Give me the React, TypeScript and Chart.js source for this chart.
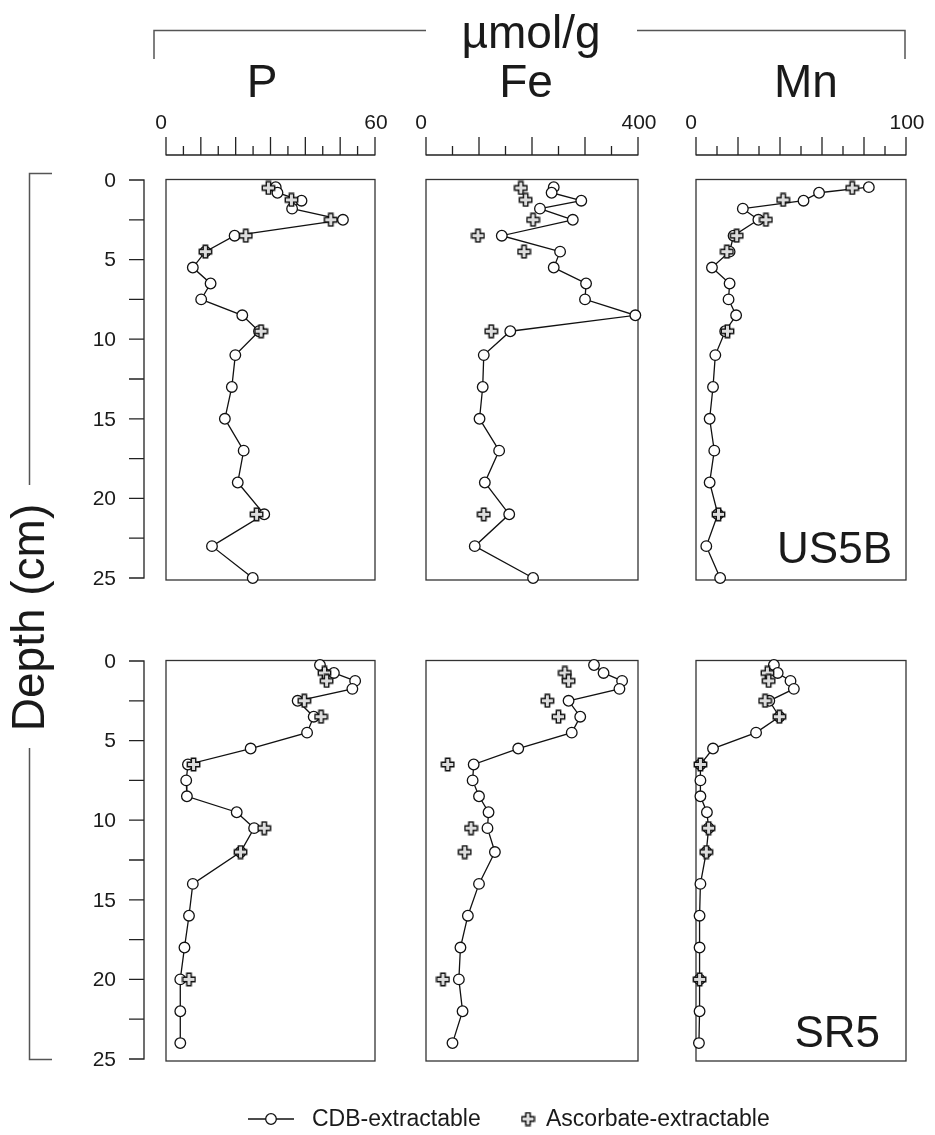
import React, { useEffect, useRef } from "react";
import { Chart, registerables } from "chart.js";

Chart.register(...registerables);

const W = 935;
const H = 1135;
const FONT = '"Liberation Sans", Arial, Helvetica, sans-serif';
const INK = "#1a1a1a";

// ---------- depths (cm) ----------
const depthUS5B = [0.45, 0.8, 1.3, 1.8, 2.5, 3.5, 4.5, 5.5, 6.5, 7.5, 8.5, 9.5, 11, 13, 15, 17, 19, 21, 23, 25];
const depthUS5BAsc = [0.5, 1.25, 2.5, 3.5, 4.5, 9.5, 21];
const depthSR5 = [0.25, 0.75, 1.25, 1.75, 2.5, 3.5, 4.5, 5.5, 6.5, 7.5, 8.5, 9.5, 10.5, 12, 14, 16, 18, 20, 22, 24];
const depthSR5Asc = [0.75, 1.25, 2.5, 3.5, 6.5, 10.5, 12, 20];

// ---------- US5B (µmol/g) ----------
const us5bP = [31.5, 32.0, 38.9, 36.2, 50.8, 19.7, 11.3, 7.7, 12.8, 10.1, 21.9, 26.7, 19.9, 18.9, 16.9, 22.3, 20.6, 28.2, 13.2, 24.9];
const us5bPAsc = [29.4, 36.0, 47.3, 22.9, 11.3, 27.3, 26.0];
const us5bFe = [241, 237, 293, 215, 277, 143, 253, 241, 302, 300, 395, 159, 109, 107, 101, 138, 111, 157, 92, 202];
const us5bFeAsc = [179, 188, 202, 98, 185, 123, 109];
const us5bMn = [82.3, 58.6, 51.2, 22.3, 29.7, 17.9, 16.0, 7.6, 16.0, 15.5, 19.1, 13.9, 9.2, 8.1, 6.5, 8.7, 6.5, 10.4, 4.9, 11.5];
const us5bMnAsc = [74.4, 41.5, 33.3, 19.4, 14.7, 15.0, 10.7];

// ---------- SR5 (µmol/g) ----------
const sr5P = [44.2, 48.2, 54.3, 53.5, 37.8, 42.4, 40.5, 24.3, 6.3, 5.8, 6.0, 20.3, 25.3, 21.4, 7.7, 6.6, 5.3, 4.1, 4.1, 4.1];
const sr5PAsc = [45.5, 46.1, 39.7, 44.5, 7.9, 28.2, 21.4, 6.6];
const sr5Fe = [317, 335, 370, 365, 269, 291, 275, 174, 90, 88, 100, 118, 116, 130, 100, 79, 65, 62, 69, 50];
const sr5FeAsc = [262, 269, 229, 250, 41, 85, 73, 32];
const sr5Mn = [37.1, 38.9, 45.0, 46.6, 34.9, 39.7, 28.6, 8.1, 2.1, 2.1, 2.1, 5.2, 6.0, 4.9, 2.1, 1.7, 1.7, 1.7, 1.7, 1.4];
const sr5MnAsc = [34.0, 34.6, 32.9, 39.7, 2.1, 6.0, 4.9, 1.7];

// ---------- axes / ticks ----------
const pTicks = [0, 5, 10, 15, 20, 25, 30, 35, 40, 45, 50, 55, 60];
const pMajor = 10;
const pTickLabels = ["0", "60"];
const feTicks = [0, 50, 100, 150, 200, 250, 300, 350, 400];
const feMajor = 100;
const feTickLabels = ["0", "400"];
const mnTicks = [0, 10, 20, 30, 40, 50, 60, 70, 80, 90, 100];
const mnMajor = 20;
const mnTickLabels = ["0", "100"];
const depthTicks = [0, 2.5, 5, 7.5, 10, 12.5, 15, 17.5, 20, 22.5, 25];
const depthTickLabels = ["0", "5", "10", "15", "20", "25"];

const elements = ["P", "Fe", "Mn"];
const stations = ["US5B", "SR5"];
const legendLabels = ["CDB-extractable", "Ascorbate-extractable"];
const unitTitle = "µmol/g";
const depthTitle = "Depth (cm)";

// panel boxes (plot areas)
const colBox = [
  { left: 166, right: 375 },
  { left: 426, right: 638 },
  { left: 696, right: 906 },
];
const rowBox = [
  { top: 180, bottom: 578 },
  { top: 661, bottom: 1059 },
];

type Panel = {
  col: number;
  row: number;
  max: number;
  ticks: number[];
  major: number;
  tickLabels: string[];
  cdb: number[];
  asc: number[];
  depth: number[];
  depthAsc: number[];
};

const panels: Panel[] = [
  { col: 0, row: 0, max: 60, ticks: pTicks, major: pMajor, tickLabels: pTickLabels, cdb: us5bP, asc: us5bPAsc, depth: depthUS5B, depthAsc: depthUS5BAsc },
  { col: 1, row: 0, max: 400, ticks: feTicks, major: feMajor, tickLabels: feTickLabels, cdb: us5bFe, asc: us5bFeAsc, depth: depthUS5B, depthAsc: depthUS5BAsc },
  { col: 2, row: 0, max: 100, ticks: mnTicks, major: mnMajor, tickLabels: mnTickLabels, cdb: us5bMn, asc: us5bMnAsc, depth: depthUS5B, depthAsc: depthUS5BAsc },
  { col: 0, row: 1, max: 60, ticks: pTicks, major: pMajor, tickLabels: pTickLabels, cdb: sr5P, asc: sr5PAsc, depth: depthSR5, depthAsc: depthSR5Asc },
  { col: 1, row: 1, max: 400, ticks: feTicks, major: feMajor, tickLabels: feTickLabels, cdb: sr5Fe, asc: sr5FeAsc, depth: depthSR5, depthAsc: depthSR5Asc },
  { col: 2, row: 1, max: 100, ticks: mnTicks, major: mnMajor, tickLabels: mnTickLabels, cdb: sr5Mn, asc: sr5MnAsc, depth: depthSR5, depthAsc: depthSR5Asc },
];

function makeCross(): HTMLCanvasElement {
  const c = document.createElement("canvas");
  c.width = 15;
  c.height = 15;
  const g = c.getContext("2d")!;
  const m = 7.5;
  const a = 2.2;
  const L = 6.2;
  g.beginPath();
  g.moveTo(m - a, m - L);
  g.lineTo(m + a, m - L);
  g.lineTo(m + a, m - a);
  g.lineTo(m + L, m - a);
  g.lineTo(m + L, m + a);
  g.lineTo(m + a, m + a);
  g.lineTo(m + a, m + L);
  g.lineTo(m - a, m + L);
  g.lineTo(m - a, m + a);
  g.lineTo(m - L, m + a);
  g.lineTo(m - L, m - a);
  g.lineTo(m - a, m - a);
  g.closePath();
  g.fillStyle = "#dcdcdc";
  g.fill();
  g.strokeStyle = "#111";
  g.lineWidth = 1.4;
  g.stroke();
  return c;
}

function panelPlugin(p: Panel) {
  return {
    id: "panelDecor",
    beforeDatasetsDraw(chart: any) {
      const { ctx, chartArea: a } = chart;
      ctx.save();
      ctx.strokeStyle = "#333";
      ctx.lineWidth = 1.3;
      ctx.strokeRect(a.left, a.top - 0.5, a.right - a.left, a.bottom - a.top + 2.5);
      ctx.restore();
    },
    afterDraw(chart: any) {
      const { ctx, chartArea: a, scales } = chart;
      const xs = scales.x;
      const ys = scales.y;
      ctx.save();
      ctx.strokeStyle = "#222";
      ctx.fillStyle = INK;
      ctx.lineWidth = 1.3;
      // top concentration axis (upper row only)
      if (p.row === 0) {
        const yb = a.top - 25;
        ctx.beginPath();
        ctx.moveTo(xs.getPixelForValue(0), yb);
        ctx.lineTo(xs.getPixelForValue(p.max), yb);
        p.ticks.forEach((t) => {
          const x = xs.getPixelForValue(t);
          const len = t % p.major === 0 ? 18 : 9;
          ctx.moveTo(x, yb + 0.6);
          ctx.lineTo(x, yb - len);
        });
        ctx.stroke();
        ctx.font = `21px ${FONT}`;
        ctx.textAlign = "center";
        ctx.textBaseline = "middle";
        ctx.fillText(p.tickLabels[0], xs.getPixelForValue(0) - 5, a.top - 57);
        ctx.fillText(p.tickLabels[1], xs.getPixelForValue(p.max) + 1, a.top - 57);
      }
      // depth axis (left column only)
      if (p.col === 0) {
        const xa = a.left - 22;
        ctx.beginPath();
        ctx.moveTo(xa, ys.getPixelForValue(0));
        ctx.lineTo(xa, ys.getPixelForValue(25));
        depthTicks.forEach((t) => {
          const y = ys.getPixelForValue(t);
          ctx.moveTo(xa + 0.6, y);
          ctx.lineTo(xa - 15, y);
        });
        ctx.stroke();
        ctx.font = `21px ${FONT}`;
        ctx.textAlign = "right";
        ctx.textBaseline = "middle";
        depthTickLabels.forEach((lab) => {
          ctx.fillText(lab, a.left - 50, ys.getPixelForValue(Number(lab)) + 1);
        });
      }
      // station label
      if (p.col === 2) {
        ctx.font = `44px ${FONT}`;
        ctx.textAlign = "right";
        ctx.textBaseline = "alphabetic";
        if (p.row === 0) ctx.fillText(stations[0], a.right - 14, a.bottom - 15);
        else ctx.fillText(stations[1], a.right - 26, a.bottom - 12);
      }
      ctx.restore();
    },
  };
}

function pagePlugin(cross: HTMLCanvasElement) {
  return {
    id: "pageDecor",
    afterDraw(chart: any) {
      const { ctx } = chart;
      ctx.save();
      ctx.fillStyle = INK;
      ctx.strokeStyle = "#555";
      ctx.lineWidth = 1.5;
      // unit title with bracket
      ctx.beginPath();
      ctx.moveTo(154, 59);
      ctx.lineTo(154, 30.5);
      ctx.lineTo(426, 30.5);
      ctx.moveTo(637, 30.5);
      ctx.lineTo(905, 30.5);
      ctx.lineTo(905, 59);
      // depth bracket
      ctx.moveTo(52, 173.5);
      ctx.lineTo(29.5, 173.5);
      ctx.lineTo(29.5, 485);
      ctx.moveTo(29.5, 748);
      ctx.lineTo(29.5, 1059.5);
      ctx.lineTo(52, 1059.5);
      ctx.stroke();

      ctx.font = `46px ${FONT}`;
      ctx.textAlign = "center";
      ctx.textBaseline = "alphabetic";
      ctx.fillText(unitTitle, 531, 48);
      ctx.fillText(elements[0], 262, 97);
      ctx.fillText(elements[1], 526, 97);
      ctx.fillText(elements[2], 806, 97);

      ctx.save();
      ctx.translate(43.5, 617.5);
      ctx.rotate(-Math.PI / 2);
      ctx.fillText(depthTitle, 0, 0);
      ctx.restore();

      // legend
      const ly = 1119;
      ctx.strokeStyle = "#111";
      ctx.lineWidth = 1.3;
      ctx.beginPath();
      ctx.moveTo(248, ly);
      ctx.lineTo(294, ly);
      ctx.stroke();
      ctx.beginPath();
      ctx.arc(271, ly, 5.3, 0, Math.PI * 2);
      ctx.fillStyle = "#fff";
      ctx.fill();
      ctx.stroke();
      ctx.drawImage(cross, 528 - cross.width / 2, ly - cross.height / 2);
      ctx.fillStyle = INK;
      ctx.font = `23px ${FONT}`;
      ctx.textAlign = "left";
      ctx.textBaseline = "middle";
      ctx.fillText(legendLabels[0], 312, ly + 1);
      ctx.fillText(legendLabels[1], 546, ly + 1);
      ctx.restore();
    },
  };
}

function buildConfig(p: Panel, cross: HTMLCanvasElement, withPage: boolean): any {
  const cb = colBox[p.col];
  const rb = rowBox[p.row];
  const plugins: any[] = [panelPlugin(p)];
  if (withPage) plugins.push(pagePlugin(cross));
  return {
    type: "scatter",
    data: {
      datasets: [
        {
          label: legendLabels[1],
          data: p.asc.map((v, k) => ({ x: v, y: p.depthAsc[k] })),
          showLine: false,
          pointStyle: cross,
          pointRadius: 6,
          order: 0,
          clip: false,
        },
        {
          label: legendLabels[0],
          data: p.cdb.map((v, k) => ({ x: v, y: p.depth[k] })),
          showLine: true,
          borderColor: "#111",
          borderWidth: 1.3,
          tension: 0,
          pointRadius: 5.3,
          pointBackgroundColor: "#fff",
          pointBorderColor: "#111",
          pointBorderWidth: 1.3,
          order: 1,
          clip: false,
        },
      ],
    },
    options: {
      responsive: false,
      animation: false,
      events: [],
      devicePixelRatio: 1,
      layout: {
        padding: { left: cb.left, right: W - cb.right, top: rb.top, bottom: H - rb.bottom },
      },
      plugins: { legend: { display: false }, tooltip: { enabled: false }, title: { display: false } },
      scales: {
        x: { type: "linear", min: 0, max: p.max, display: false },
        y: { type: "linear", min: 0, max: 25, reverse: true, display: false },
      },
    },
    plugins,
  };
}

export default function App() {
  const refs = useRef<(HTMLCanvasElement | null)[]>([]);
  useEffect(() => {
    const cross = makeCross();
    const charts = panels.map((p, i) => new Chart(refs.current[i] as HTMLCanvasElement, buildConfig(p, cross, i === 0)));
    return () => charts.forEach((c) => c.destroy());
  }, []);
  return (
    <div style={{ position: "absolute", left: 0, top: 0, width: W, height: H, background: "#fff", overflow: "hidden" }}>
      {panels.map((_, i) => (
        <canvas
          key={i}
          ref={(el) => {
            refs.current[i] = el;
          }}
          width={W}
          height={H}
          style={{ position: "absolute", left: 0, top: 0, width: W, height: H }}
        />
      ))}
    </div>
  );
}
